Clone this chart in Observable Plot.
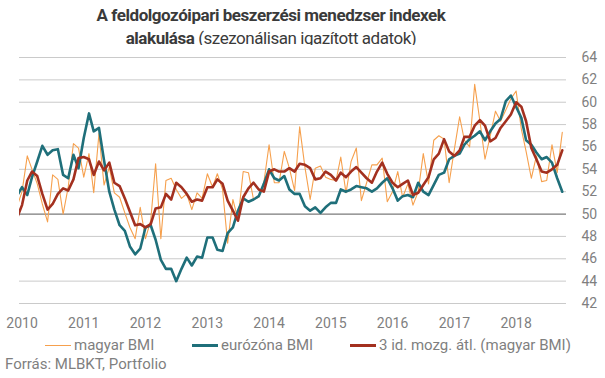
<!DOCTYPE html>
<html><head><meta charset="utf-8">
<script src="https://cdn.jsdelivr.net/npm/d3@7"></script>
<script src="https://cdn.jsdelivr.net/npm/@observablehq/plot@0.6"></script>
<style>
body{margin:0;background:#fff;font-family:Roboto,sans-serif;}
#wrap{position:relative;width:605px;height:378px;overflow:hidden;background:#fff;}
#title{position:absolute;left:0;width:542px;top:4px;text-align:center;font-size:17px;color:#3a3a3a;line-height:23px;letter-spacing:-0.45px;}
#title b{font-weight:700;}
#chart{position:absolute;left:0;top:45px;}
.leg{position:absolute;top:337px;font-size:15px;line-height:16px;color:#7f7f7f;white-space:nowrap;display:flex;align-items:center;}
.sw{display:inline-block;width:26px;margin-right:3px;}
#src{position:absolute;left:5px;top:356px;font-size:15px;line-height:16px;color:#7f7f7f;}
</style></head><body>
<div id="wrap">
<div id="title"><b>A feldolgozóipari beszerzési menedzser indexek</b><br><b>alakulása</b> (szezonálisan igazított adatok)</div>
<div id="chart"></div>
<div class="leg" style="left:45px"><span class="sw" style="border-top:1.2px solid #f6a04d"></span>magyar BMI</div>
<div class="leg" style="left:192px"><span class="sw" style="border-top:3px solid #1f6f7a"></span>eurózóna BMI</div>
<div class="leg" style="left:350px"><span class="sw" style="border-top:3px solid #a3301f"></span>3 id. mozg. átl. (magyar BMI)</div>
<div id="src">Forrás: MLBKT, Portfolio</div>
</div>
<script>
// Monthly series, Dec 2009 .. Oct 2018
const firstMonth = [2009, 11];
const magyarBMI = [50.6,
 52.0,55.2,54.0,52.7,50.9,49.3,53.5,53.1,50.0,52.4,56.3,55.9,
 53.3,55.4,51.9,57.2,52.6,54.2,51.9,51.5,50.1,48.8,47.8,50.6,
 47.8,49.4,54.5,47.8,53.0,53.2,52.2,51.4,51.8,50.4,51.9,51.4,
 53.6,52.4,53.6,52.2,47.4,51.3,49.5,53.8,53.7,51.3,51.5,52.8,
 56.2,52.8,52.8,55.6,54.1,52.1,57.8,54.2,51.3,54.1,54.3,53.3,
 53.1,53.0,55.1,51.9,54.7,55.9,51.2,52.8,54.4,54.4,55.0,51.1,
 52.0,53.8,51.5,52.7,50.8,52.0,55.4,52.7,56.6,57.0,56.7,52.8,
 55.8,58.7,56.6,56.0,61.6,58.3,54.9,57.0,59.2,58.3,59.3,60.3,
 61.0,57.6,55.6,53.2,55.2,52.9,53.0,56.2,53.7,57.3];
const euroBMI = [51.6,
 52.4,51.7,53.3,54.7,56.1,55.3,55.7,55.8,53.5,53.2,55.3,54.1,
 56.8,59.0,57.4,57.7,54.8,52.0,50.4,49.0,48.5,47.1,46.4,46.9,
 48.8,49.0,47.7,45.9,45.1,45.1,44.0,45.1,46.1,45.4,46.2,46.1,
 47.9,47.9,46.8,46.7,48.3,48.8,50.3,51.4,51.1,51.3,51.6,52.7,
 54.0,53.2,53.0,53.4,52.2,51.8,51.8,50.7,50.3,50.6,50.1,50.6,
 51.0,51.0,52.2,52.0,52.2,52.5,52.4,52.3,52.0,52.3,52.8,53.2,
 52.3,51.2,51.6,51.7,51.5,52.8,52.0,51.7,52.6,53.5,53.7,54.9,
 55.2,55.4,56.2,56.7,57.0,57.4,56.6,57.4,58.1,58.5,60.1,60.6,
 59.6,58.6,56.6,56.2,55.5,54.9,55.1,54.6,53.2,52.0];
const movAvgBMI = [49.6,
 50.8,53.0,53.8,53.4,51.8,50.4,50.9,51.8,52.3,52.1,53.1,55.0,
 55.1,54.9,53.5,54.7,53.9,54.6,52.8,52.5,51.4,50.2,49.0,49.1,
 48.8,49.1,50.5,50.6,51.8,51.3,52.8,52.4,51.8,51.1,51.3,51.2,
 52.4,52.4,53.1,52.7,51.2,50.3,49.4,51.5,52.3,52.8,52.2,52.0,
 53.8,54.0,53.8,53.8,54.1,53.8,54.5,54.4,54.1,53.1,53.2,53.8,
 53.5,53.0,53.7,53.3,53.8,54.2,53.7,53.2,52.8,53.8,54.6,53.6,
 52.8,52.4,52.7,53.0,51.7,51.9,52.6,53.3,54.9,55.4,56.7,55.6,
 55.2,55.7,56.9,56.9,57.9,58.4,57.9,56.5,56.8,57.7,58.3,58.9,
 60.0,59.6,58.3,55.9,54.9,53.8,53.7,54.0,54.4,55.7];
const yTicks = [42,44,46,48,50,52,54,56,58,60,62,64];
const xTickYears = [2010,2011,2012,2013,2014,2015,2016,2017,2018];

const dates = magyarBMI.map((_, i) => new Date(Date.UTC(firstMonth[0], firstMonth[1] + i, 1)));
const rows = dates.map((d, i) => ({date: d, hu: magyarBMI[i], ez: euroBMI[i], ma: movAvgBMI[i]}));

const chart = Plot.plot({
  width: 605, height: 293,
  marginTop: 12, marginBottom: 35, marginLeft: 19, marginRight: 39,
  style: {fontFamily: "Roboto, sans-serif", fontSize: "14px", color: "#7f7f7f", background: "white"},
  x: {type: "utc", domain: [new Date(Date.UTC(2009, 11, 17)), new Date(Date.UTC(2018, 9, 26))]},
  y: {domain: [42, 64]},
  marks: [
    Plot.ruleY(yTicks.filter(d => d !== 50), {stroke: "#cacaca", strokeWidth: 1}),
    Plot.ruleY([50], {stroke: "#7a7a7a", strokeWidth: 1.2}),
    Plot.axisY(yTicks, {anchor: "right", tickSize: 0, tickPadding: 15, label: null, fill: "#7f7f7f", fontSize: 14}),
    Plot.axisX(xTickYears.map(y => new Date(Date.UTC(y, 0, 1))), {anchor: "bottom", tickSize: 0, tickPadding: 15, tickFormat: d3.utcFormat("%Y"), label: null, fill: "#7f7f7f", fontSize: 14}),
    Plot.lineY(rows, {x: "date", y: "hu", stroke: "#f6a04d", strokeWidth: 1.1, clip: true}),
    Plot.lineY(rows, {x: "date", y: "ez", stroke: "#1f6f7a", strokeWidth: 2.6, clip: true}),
    Plot.lineY(rows, {x: "date", y: "ma", stroke: "#a3301f", strokeWidth: 2.6, clip: true})
  ]
});
document.getElementById("chart").appendChild(chart);
</script>
</body></html>
